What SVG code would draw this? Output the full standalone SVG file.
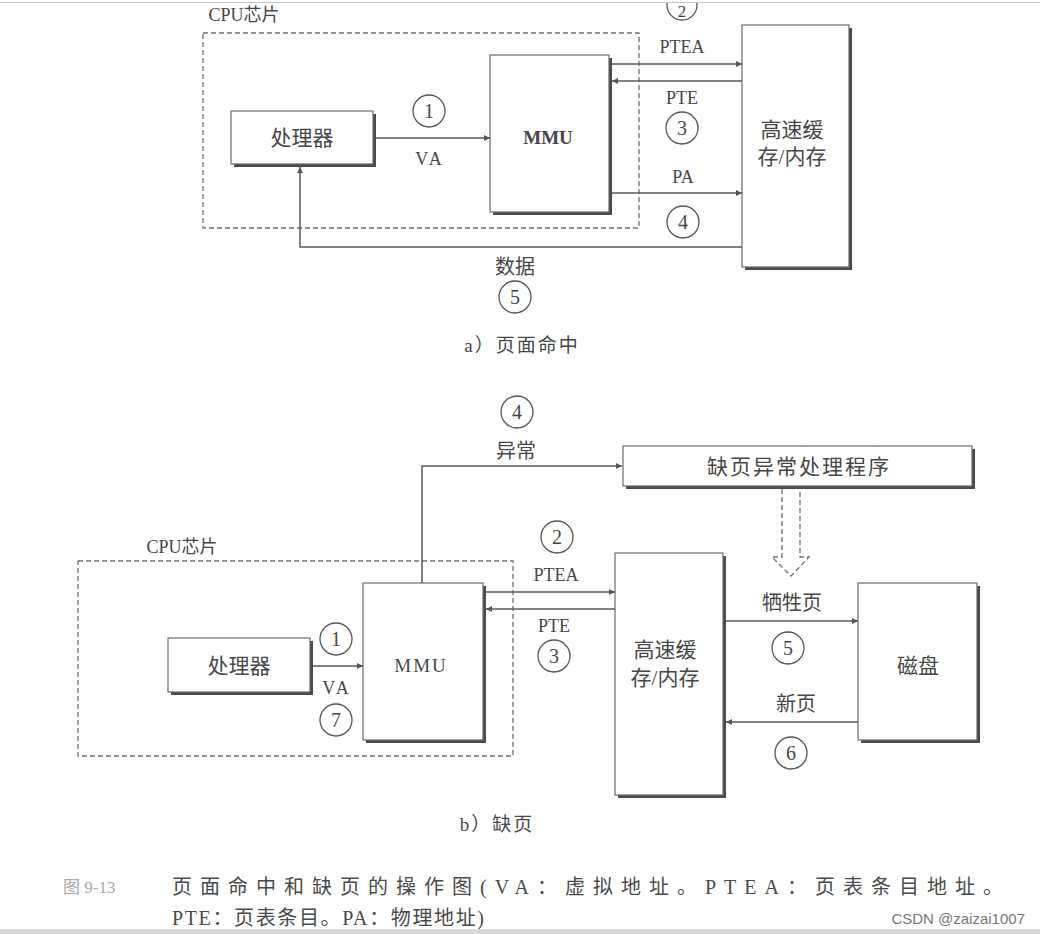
<svg xmlns="http://www.w3.org/2000/svg" width="1040" height="934" viewBox="0 0 1040 934">
<style>
text{font-family:"Liberation Serif","Noto Sans CJK SC",serif;fill:#474747;dominant-baseline:central;text-anchor:middle}
.cjk{font-size:20px}
.lat{font-size:18px}
.big{font-size:21px}
.box{fill:#fff;stroke:#6a6a6a;stroke-width:1.2}
.sh{fill:#4a4a4a}
.dash{fill:none;stroke:#707070;stroke-width:1.3;stroke-dasharray:5 3}
.ln{fill:none;stroke:#595959;stroke-width:1.5}
.arr{marker-end:url(#ah)}
.circ{fill:none;stroke:#555;stroke-width:1.3}
.num{font-size:20px}
</style>
<defs>
<marker id="ah" viewBox="0 0 10 10" refX="10" refY="5" markerWidth="9" markerHeight="6" markerUnits="userSpaceOnUse" orient="auto">
<path d="M0,0 L10,5 L0,10 z" fill="#555"/>
</marker>
</defs>
<rect x="0" y="0" width="1040" height="934" fill="#fff"/>

<!-- ===== (a) page hit ===== -->
<g id="cpu-a">
<rect class="dash" x="203" y="33" width="436" height="195"/>
<text x="244" y="15" style="font-size:18px">CPU芯片</text>
</g>
<g id="proc-a">
<rect class="sh" x="234" y="114" width="142" height="53"/>
<rect class="box" x="231" y="111" width="142" height="53"/>
<text class="big" x="302" y="138">处理器</text>
</g>
<g id="mmu-a">
<rect class="sh" x="493" y="58" width="119" height="157"/>
<rect class="box" x="490" y="55" width="119" height="157"/>
<text x="548" y="137" style="font-size:19px;font-weight:bold">MMU</text>
</g>
<g id="cache-a">
<rect class="sh" x="745" y="28" width="107" height="242"/>
<rect class="box" x="742" y="25" width="107" height="242"/>
<text class="big" x="792" y="130">高速缓</text>
<text class="big" x="792" y="157">存/内存</text>
</g>

<g id="connectors-a">
<path class="ln arr" d="M376,138 H490"/>
<path class="ln arr" d="M612,64 H742"/>
<path class="ln arr" d="M742,81 H612"/>
<path class="ln arr" d="M612,193 H742"/>
<path class="ln arr" d="M742,247 H300 V167"/>
</g>

<g id="labels-a">
<circle class="circ" cx="429" cy="111" r="16"/><text class="num" x="429" y="111">1</text>
<text class="lat" x="430" y="159" style="letter-spacing:3px">VA</text>
<circle class="circ" cx="682" cy="5" r="15"/><text x="682" y="11" style="font-size:17px">2</text>
<text class="lat" x="682" y="47">PTEA</text>
<text class="lat" x="682" y="98">PTE</text>
<circle class="circ" cx="682" cy="128" r="16"/><text class="num" x="682" y="128">3</text>
<text class="lat" x="683" y="177">PA</text>
<circle class="circ" cx="683" cy="222" r="16"/><text class="num" x="683" y="222">4</text>
<text class="cjk" x="515" y="267">数据</text>
<circle class="circ" cx="515" cy="297" r="16"/><text class="num" x="515" y="297">5</text>
<text x="522" y="345" style="font-size:19px;letter-spacing:2px">a）页面命中</text>
</g>

<!-- ===== (b) page fault ===== -->
<g id="handler">
<rect class="sh" x="626" y="449" width="349" height="40"/>
<rect class="box" x="623" y="446" width="349" height="40"/>
<text x="799" y="467" style="font-size:21px;letter-spacing:2px">缺页异常处理程序</text>
</g>
<g id="cpu-b">
<rect class="dash" x="78" y="561" width="435" height="195"/>
<text x="182" y="547" style="font-size:18px">CPU芯片</text>
</g>
<g id="proc-b">
<rect class="sh" x="171" y="641" width="142" height="54"/>
<rect class="box" x="168" y="638" width="142" height="54"/>
<text class="big" x="239" y="666">处理器</text>
</g>
<g id="mmu-b">
<rect class="sh" x="366" y="586" width="120" height="157"/>
<rect class="box" x="363" y="583" width="120" height="157"/>
<text x="421" y="665" style="font-size:19px;letter-spacing:2px">MMU</text>
</g>
<g id="cache-b">
<rect class="sh" x="618" y="556" width="108" height="242"/>
<rect class="box" x="615" y="553" width="108" height="242"/>
<text class="big" x="665" y="650">高速缓</text>
<text class="big" x="665" y="678">存/内存</text>
</g>
<g id="disk">
<rect class="sh" x="861" y="586" width="119" height="157"/>
<rect class="box" x="858" y="583" width="119" height="157"/>
<text class="big" x="918" y="666">磁盘</text>
</g>

<g id="connectors-b">
<path class="ln arr" d="M313,666 H363"/>
<path class="ln arr" d="M422,583 V466 H622"/>
<path class="ln arr" d="M486,592 H615"/>
<path class="ln arr" d="M615,609 H486"/>
<path class="ln arr" d="M726,621 H858"/>
<path class="ln arr" d="M858,722 H726"/>
<path class="dash" d="M782,489 V557 H772 L791,576 L809,557 H800 V489"/>
</g>

<g id="labels-b">
<circle class="circ" cx="517" cy="412" r="16"/><text class="num" x="517" y="412">4</text>
<text class="cjk" x="516" y="451">异常</text>
<circle class="circ" cx="557" cy="537" r="16"/><text class="num" x="557" y="537">2</text>
<text class="lat" x="556" y="575">PTEA</text>
<text class="lat" x="554" y="626">PTE</text>
<circle class="circ" cx="554" cy="656" r="16"/><text class="num" x="554" y="656">3</text>
<circle class="circ" cx="336" cy="639" r="16"/><text class="num" x="336" y="639">1</text>
<text class="lat" x="337" y="688" style="letter-spacing:3px">VA</text>
<circle class="circ" cx="336" cy="720" r="16"/><text class="num" x="336" y="720">7</text>
<text class="cjk" x="792" y="603">牺牲页</text>
<circle class="circ" cx="788" cy="648" r="16"/><text class="num" x="788" y="648">5</text>
<text class="cjk" x="796" y="704">新页</text>
<circle class="circ" cx="791" cy="753" r="16"/><text class="num" x="791" y="753">6</text>
<text x="497" y="824" style="font-size:19px;letter-spacing:2px">b）缺页</text>
</g>

<!-- caption -->
<g id="caption">
<text x="63" y="887" style="font-size:17px;fill:#a8a8a8;text-anchor:start">图 9-13</text>
<text x="172" y="887" textLength="831" lengthAdjust="spacing" style="font-size:20px;fill:#4a4a4a;text-anchor:start">页面命中和缺页的操作图(VA：虚拟地址。PTEA：页表条目地址。</text>
<text x="172" y="918" textLength="312" lengthAdjust="spacing" style="font-size:20px;fill:#4a4a4a;text-anchor:start">PTE：页表条目。PA：物理地址)</text>
<text x="1025" y="918" style="font-family:'Liberation Sans','Noto Sans CJK SC',sans-serif;font-size:15px;fill:#777;text-anchor:end">CSDN @zaizai1007</text>
</g>

<!-- page frame -->
<rect x="0" y="0" width="1040" height="2" fill="#fff"/>
<line x1="0" y1="2.5" x2="1040" y2="2.5" stroke="#c4c4c4" stroke-width="1"/>
<rect x="0" y="929" width="1040" height="5" fill="#d9d9d9"/>
</svg>
